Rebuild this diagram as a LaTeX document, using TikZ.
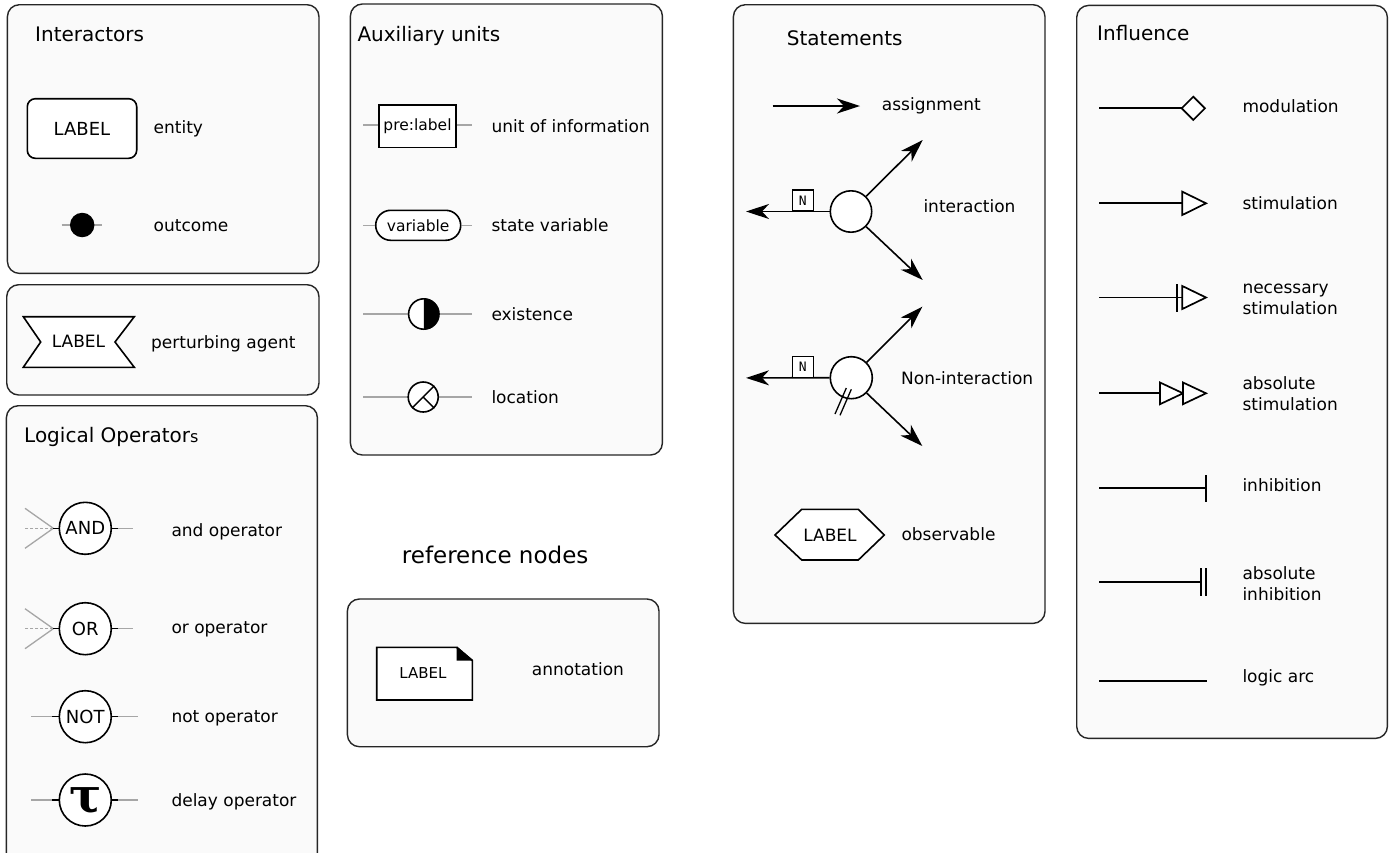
\documentclass[tikz,border=0pt]{standalone}
\usepackage{fontspec}
\setmainfont{DejaVu Sans}
\newfontfamily\monofont{DejaVu Sans Mono}
\newfontfamily\taufont{DejaVu Serif}
\usetikzlibrary{arrows.meta}

\begin{document}
\begin{tikzpicture}[x=1pt,y=-1pt,
  panel/.style={draw=black!85, fill=black!2, line width=1.4pt, rounded corners=12pt,
                anchor=north west, inner sep=0},
  lbl/.style={anchor=base west, inner sep=0, font=\fontsize{17}{20}\selectfont},
  ttl/.style={anchor=base west, inner sep=0, font=\fontsize{20}{24}\selectfont},
  glyph/.style={draw=black, fill=white, line width=1.6pt},
  boxtext/.style={font=\fontsize{18}{20}\selectfont},
  opnode/.style={glyph, circle, minimum size=52pt, inner sep=0, font=\fontsize{18}{20}\selectfont},
  stub/.style={draw=black, line width=1.5pt},
  faint/.style={draw=black!35, line width=1.3pt},
  infl/.style={draw=black, line width=1.7pt},
  sarrow/.style={line width=1.6pt, -{Stealth[length=23pt,width=15pt,inset=7pt]}},
  nbox/.style={draw, fill=white, line width=1.2pt, minimum width=21pt, minimum height=21pt,
               inner sep=0, anchor=south, font=\monofont\fontsize{13}{14}\selectfont}
]
\useasboundingbox (0,0) rectangle (1392,852);
\clip (0,0) rectangle (1392,852);
\fill[white] (0,0) rectangle (1392,852);

% ---------- panels ----------
\node[panel, minimum width=311.6pt, minimum height=268.7pt] (pInter) at (6.7,4) {};
\node[panel, minimum width=312.3pt, minimum height=110.3pt] (pPert) at (6,284) {};
\node[panel, minimum width=311pt, minimum height=470pt] (pLogic) at (5.7,405) {};
\node[panel, minimum width=312pt, minimum height=451pt] (pAux) at (349.7,3.3) {};
\node[panel, minimum width=311.6pt, minimum height=147.7pt] (pRef) at (346.7,598.3) {};
\node[panel, minimum width=311.6pt, minimum height=618.7pt] (pStat) at (732.7,4) {};
\node[panel, minimum width=310.7pt, minimum height=733pt] (pInfl) at (1076,4.7) {};

% ---------- Interactors ----------
\node[ttl] (tInter) at (35,41.7) {Interactors};
\node[glyph, rounded corners=8pt, minimum width=109.4pt, minimum height=59.6pt, inner sep=0, boxtext]
  (entity) at (82,128.5) {LABEL};
\node[lbl] (lEntity) at (153.5,133) {entity};
\coordinate (outL) at (61.7,225);
\coordinate (outR) at (102.3,225);
\draw[faint] (outL) -- (outR);
\node[circle, fill=black, minimum size=24.5pt, inner sep=0] (outcome) at (82.2,225) {};
\node[lbl] (lOutcome) at (153.5,231.7) {outcome};

% ---------- perturbing agent ----------
\draw[glyph] (23.3,316.7) -- (134.3,316.7) -- (115,342) -- (134.3,367.3)
  -- (23.3,367.3) -- (40.7,342) -- cycle;
\node[inner sep=0, font=\fontsize{17}{20}\selectfont] (pert) at (78.5,341) {LABEL};
\node[lbl] (lPert) at (151,348.3) {perturbing agent};

% ---------- Logical operators ----------
\node[ttl] (tLogic) at (24,442.7) {Logical Operator{\fontsize{16}{18}\selectfont s}};

% and
\node[opnode] (andop) at (85.3,528.3) {AND};
\coordinate (andIn) at (53.3,528.3);
\coordinate (andOut) at (118.3,528.3);
\draw[faint] (andIn) -- ++(-28.3,-20);
\draw[faint] (andIn) -- ++(-28.3,20);
\draw[faint, dashed, dash pattern=on 3pt off 2pt] (andIn) -- ++(-28.3,0);
\draw[stub] (andop.west) -- (andIn);
\draw[stub] (andop.east) -- (andOut);
\draw[faint] (andOut) -- ++(15,0);
\node[lbl] (lAnd) at (171.3,536) {and operator};

% or
\node[opnode] (orop) at (85.3,628.7) {OR};
\coordinate (orIn) at (53.3,628.7);
\coordinate (orOut) at (118.3,628.7);
\draw[faint] (orIn) -- ++(-28.3,-20);
\draw[faint] (orIn) -- ++(-28.3,20);
\draw[faint, dashed, dash pattern=on 3pt off 2pt] (orIn) -- ++(-28.3,0);
\draw[stub] (orop.west) -- (orIn);
\draw[stub] (orop.east) -- (orOut);
\draw[faint] (orOut) -- ++(15,0);
\node[lbl] (lOr) at (171.3,633.3) {or operator};

% not
\node[opnode] (notop) at (85.3,716.7) {NOT};
\coordinate (notIn) at (51.7,716.7);
\coordinate (notOut) at (118.3,716.7);
\draw[faint] (notIn) -- ++(-21,0);
\draw[stub] (notop.west) -- (notIn);
\draw[stub] (notop.east) -- (notOut);
\draw[faint] (notOut) -- ++(20,0);
\node[lbl] (lNot) at (171.3,722.7) {not operator};

% delay
\node[opnode] (delayop) at (85.3,800) {};
\node[inner sep=0, font=\taufont\bfseries\fontsize{48}{48}\selectfont] (tau) at (85.3,801) {τ};
\coordinate (delIn) at (51.7,800);
\coordinate (delOut) at (118.3,800);
\draw[faint] (delIn) -- ++(-21,0);
\draw[stub] (delayop.west) -- (delIn);
\draw[stub] (delayop.east) -- (delOut);
\draw[faint] (delOut) -- ++(20,0);
\node[lbl] (lDelay) at (171.3,806) {delay operator};

% ---------- Auxiliary units ----------
\node[ttl] (tAux) at (357.3,41.7) {Auxiliary units};

\coordinate (uoiL) at (363.3,125);
\coordinate (uoiR) at (471.7,125);
\node[draw, fill=white, line width=1.6pt, minimum width=77pt, minimum height=42.7pt, inner sep=0,
      font=\fontsize{15.5}{18}\selectfont] (uoi) at (417.5,126.3) {pre:label};
\draw[faint] (uoiL) -- (uoi.west |- uoiL);
\draw[faint] (uoi.east |- uoiR) -- (uoiR);
\node[lbl] (lUoi) at (491.3,132.7) {unit of information};

\coordinate (varL) at (363.3,225.3);
\coordinate (varR) at (471.7,225.3);
\node[glyph, rounded corners=15pt, minimum width=85pt, minimum height=30pt, inner sep=0,
      font=\fontsize{15.5}{18}\selectfont] (var) at (418.2,225.3) {variable};
\draw[faint] (varL) -- (var.west);
\draw[faint] (var.east) -- (varR);
\node[lbl] (lVar) at (491.3,231) {state variable};

\coordinate (exL) at (363.3,314);
\coordinate (exR) at (471.7,314);
\draw[faint] (exL) -- (exR);
\fill[white] (423.8,314) circle[radius=15.2pt];
\begin{scope}
  \clip (423.8,296) rectangle (442,332);
  \fill[black] (423.8,314) circle[radius=15.2pt];
\end{scope}
\node[draw, circle, line width=1.6pt, minimum size=30.4pt, inner sep=0] (exist) at (423.8,314) {};
\node[lbl] (lExist) at (491.3,320) {existence};

\coordinate (locL) at (363.3,397);
\coordinate (locR) at (471.7,397);
\draw[faint] (locL) -- (locR);
\node[glyph, circle, minimum size=30pt, inner sep=0] (loc) at (423.2,397) {};
\draw[line width=1.4pt] (loc.north east) -- (loc.south west);
\draw[line width=1.4pt] (loc.center) -- (loc.south east);
\node[lbl] (lLoc) at (491.3,403.3) {location};

% ---------- reference nodes ----------
\node[anchor=base west, inner sep=0, font=\fontsize{23}{27}\selectfont] (tRef) at (401.7,563.3) {reference nodes};
\draw[glyph] (376.7,647.3) -- (456.7,647.3) -- (472.3,660.5) -- (472.3,700) -- (376.7,700) -- cycle;
\fill[black] (456.7,647.3) -- (472.3,660.5) -- (456.7,660.5) -- cycle;
\draw[line width=1.6pt] (456.7,647.3) -- (472.3,660.5);
\node[inner sep=0, font=\fontsize{15}{18}\selectfont] (annot) at (423,673) {LABEL};
\node[lbl] (lAnnot) at (531.7,675.7) {annotation};

% ---------- Statements ----------
\node[ttl] (tStat) at (786.7,45) {Statements};

\coordinate (asgA) at (772.7,106);
\coordinate (asgB) at (860,106);
\draw[sarrow] (asgA) -- (asgB);
\node[lbl] (lAsg) at (881.7,110) {assignment};

% interaction
\node[glyph, circle, minimum size=41.4pt, inner sep=0] (inter) at (851,211.5) {};
\coordinate (interL) at (746,211.5);
\coordinate (interU) at (922.7,140);
\coordinate (interD) at (922.7,280);
\draw[sarrow] (inter.west) -- (interL);
\draw[sarrow] (inter.north east) -- (interU);
\draw[sarrow] (inter.south east) -- (interD);
\node[nbox] (nInter) at (802.7,211.5) {N};
\node[lbl] (lInter) at (923.3,212.3) {interaction};

% non-interaction
\node[glyph, circle, minimum size=42pt, inner sep=0] (nonint) at (851.3,377.7) {};
\coordinate (nonL) at (746,377.9);
\coordinate (nonU) at (922.3,306.7);
\coordinate (nonD) at (922.3,446);
\draw[sarrow] (nonint.west) -- (nonL);
\draw[sarrow] (nonint.north east) -- (nonU);
\draw[sarrow] (nonint.south east) -- (nonD);
\node[nbox] (nNon) at (802.7,377.9) {N};
\draw[line width=1.3pt] (835,414) -- (846.3,388);
\draw[line width=1.3pt] (840,415.3) -- (851.3,389.3);
\node[lbl] (lNon) at (901,384) {Non-interaction};

% observable
\draw[glyph] (775,535) -- (801.7,509.3) -- (858.3,509.3) -- (884.3,535)
  -- (858.3,560) -- (801.7,560) -- cycle;
\node[inner sep=0, font=\fontsize{17}{20}\selectfont] (obs) at (830,535.5) {LABEL};
\node[lbl] (lObs) at (901.3,540) {observable};

% ---------- Influence ----------
\node[ttl] (tInfl) at (1097,40.7) {Influence};

% modulation
\coordinate (modA) at (1099,108.3);
\coordinate (modB) at (1181.7,108.3);
\draw[infl] (modA) -- (modB);
\draw[infl, fill=white] (modB) -- ++(11.6,-11.6) -- ++(11.6,11.6) -- ++(-11.6,11.6) -- cycle;
\node[lbl] (lMod) at (1242.3,112.7) {modulation};

% stimulation
\coordinate (stA) at (1099,203.3);
\coordinate (stB) at (1182.3,203.3);
\draw[infl] (stA) -- (stB);
\draw[infl, fill=white] (1182.3,191.7) -- (1206,203.3) -- (1182.3,215) -- cycle;
\node[lbl] (lSt) at (1242.3,209.7) {stimulation};

% necessary stimulation
\coordinate (nsA) at (1099,297.5);
\coordinate (nsB) at (1182.3,297.5);
\draw[infl] (nsA) -- (nsB);
\draw[infl] (1176.7,284) -- (1176.7,311.7);
\draw[infl, fill=white] (1182.3,286) -- (1206,297.5) -- (1182.3,309) -- cycle;
\node[lbl] (lNs1) at (1242.3,293.3) {necessary};
\node[lbl] (lNs2) at (1242.3,314.5) {stimulation};

% absolute stimulation
\coordinate (asA) at (1099,393.3);
\coordinate (asB) at (1160,393.3);
\draw[infl] (asA) -- (asB);
\draw[infl, fill=white] (1160,382.5) -- (1183,393.3) -- (1160,404.2) -- cycle;
\draw[infl, fill=white] (1183,382.5) -- (1206,393.3) -- (1183,404.2) -- cycle;
\node[lbl] (lAs1) at (1242.3,389.3) {absolute};
\node[lbl] (lAs2) at (1242.3,410.7) {stimulation};

% inhibition
\coordinate (inA) at (1099,488.3);
\coordinate (inB) at (1205.7,488.3);
\draw[infl] (inA) -- (inB);
\draw[infl] (1205.7,475) -- (1205.7,501.7);
\node[lbl] (lIn) at (1242.3,491) {inhibition};

% absolute inhibition
\coordinate (aiA) at (1099,581.7);
\coordinate (aiB) at (1200.7,581.7);
\draw[infl] (aiA) -- (aiB);
\draw[infl] (1200.7,568.3) -- (1200.7,595.7);
\draw[infl] (1205.7,568.3) -- (1205.7,595.7);
\node[lbl] (lAi1) at (1242.3,579) {absolute};
\node[lbl] (lAi2) at (1242.3,600.3) {inhibition};

% logic arc
\coordinate (laA) at (1099,680.7);
\coordinate (laB) at (1206.7,680.7);
\draw[infl] (laA) -- (laB);
\node[lbl] (lLa) at (1242.3,682.7) {logic arc};

\end{tikzpicture}
\end{document}
